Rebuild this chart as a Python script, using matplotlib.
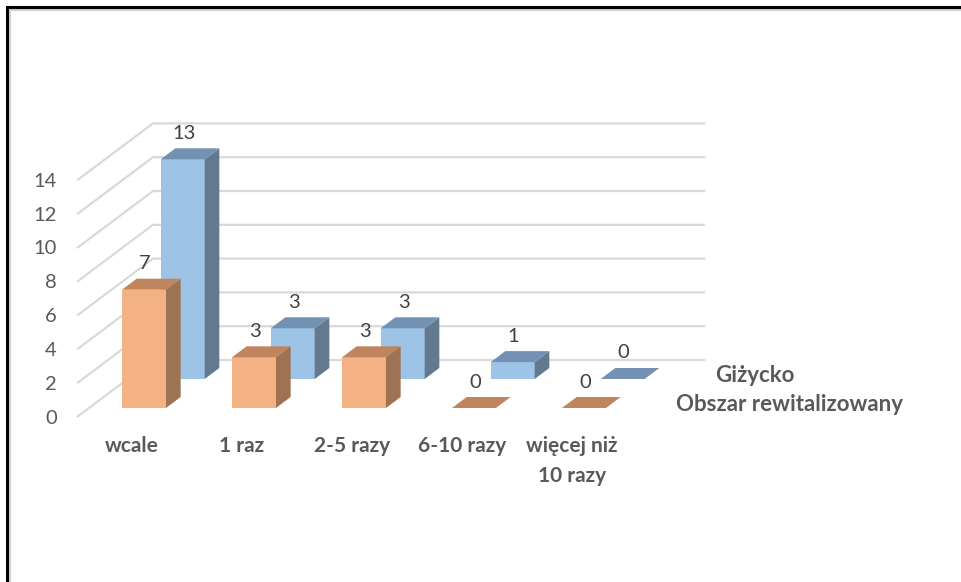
import matplotlib
matplotlib.use("Agg")
from matplotlib import pyplot as plt
from matplotlib.patches import Polygon

categories = ["wcale", "1 raz", "2-5 razy", "6-10 razy", "więcej niż\n10 razy"]
series_names = ["Obszar rewitalizowany", "Giżycko"]
obszar = [7, 3, 3, 0, 0]
gizycko = [13, 3, 3, 1, 0]
y_ticks = [0, 2, 4, 6, 8, 10, 12, 14]

# pixel geometry of the oblique projection
W, H = 961, 582
PX_X = 110.0      # px per category
PX_Y = 16.9       # px per value unit
X0, Y0 = 77, 417  # front-left corner of the floor
DEPTH = 57        # px of vertical rise from front edge to back wall
SLANT = 76 / 57   # horizontal px per vertical px of depth

# depth ranges (fraction of floor depth) for each series row
rows = {
    "Obszar rewitalizowany": (9 / 57, 20 / 57),
    "Giżycko": (38 / 57, 49 / 57),
}
colors = {
    "Obszar rewitalizowany": ("#F4B183", "#9E7353", "#C0845F"),
    "Giżycko": ("#9DC3E6", "#62798F", "#7392B3"),
}
FONT = "Lato"


def proj(x, v, d):
    # x in category units, v in value units, d depth fraction -> pixel coords
    z = d * DEPTH
    return (X0 + x * PX_X + z * SLANT, Y0 - v * PX_Y - z)


fig = plt.figure(figsize=(W / 100, H / 100), dpi=100)
ax = fig.add_axes([0, 0, 1, 1])
ax.set_xlim(0, W)
ax.set_ylim(H, 0)
ax.axis("off")

grid_c = "#D9D9D9"
n = len(categories)
for t in y_ticks:
    a = proj(0, t, 0)
    b = proj(0, t, 1)
    c = proj(n + 0.02, t, 1)
    ax.plot([a[0], b[0], c[0]], [a[1], b[1], c[1]], color=grid_c, lw=1.6,
            solid_capstyle="butt", zorder=1)
    ax.text(a[0] - 20, a[1] + 1, str(t), ha="right", va="center",
            fontsize=14.5, color="#595959", family=FONT)


def bar(x, v, d0, d1, cols, z):
    front, side, top = cols
    xl, xr = x + 0.3, x + 0.7
    if v > 0:
        ax.add_patch(Polygon([proj(xl, 0, d0), proj(xr, 0, d0), proj(xr, v, d0),
                              proj(xl, v, d0)], closed=True, fc=front,
                             ec="none", zorder=z))
        ax.add_patch(Polygon([proj(xr, 0, d0), proj(xr, 0, d1), proj(xr, v, d1),
                              proj(xr, v, d0)], closed=True, fc=side,
                             ec="none", zorder=z))
    ax.add_patch(Polygon([proj(xl, v, d0), proj(xr, v, d0), proj(xr, v, d1),
                          proj(xl, v, d1)], closed=True, fc=top,
                         ec="none", zorder=z))
    lx, ly = proj(x + 0.5, v, d0)
    ax.text(lx + 1, ly - 26, str(v), ha="center", va="center",
            fontsize=14.5, color="#404040", family=FONT, zorder=z + 1)


for name, vals, z in [("Giżycko", gizycko, 3), ("Obszar rewitalizowany", obszar, 5)]:
    d0, d1 = rows[name]
    for i, v in enumerate(vals):
        bar(i, v, d0, d1, colors[name], z)
    # series label at the right end of its row
    lx, ly = proj(n, 0, (d0 + d1) / 2)
    ax.text(lx + 30, ly + 2, name, ha="left", va="center", fontsize=16,
            fontweight="bold", color="#595959", family=FONT)

for i, cat in enumerate(categories):
    cx, cy = proj(i + 0.5, 0, 0)
    ax.text(cx, cy + 19, cat, ha="center", va="top", fontsize=15,
            fontweight="bold", color="#595959", family=FONT, linespacing=1.6)

# chart frame (top and left edges)
ax.plot([7, 7, W], [H, 7, 7], color="black", lw=2.2, solid_joinstyle="miter", zorder=10)
ax.plot([10, 10, W], [H, 10, 10], color="#D0D0D0", lw=1.5, zorder=9)

fig.savefig("out.png", dpi=100)
